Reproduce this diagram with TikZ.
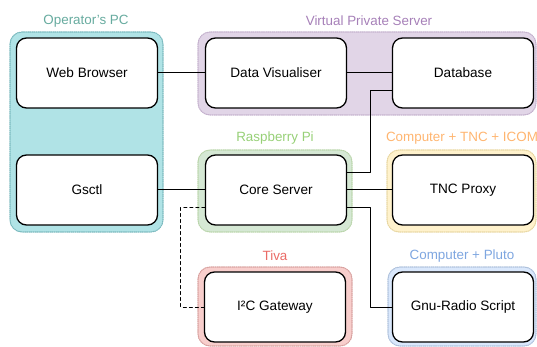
\documentclass[tikz,border=0pt]{standalone}
\usepackage{fontspec}
\setmainfont{Liberation Sans}

\begin{document}
\begin{tikzpicture}[x=1pt,y=-1pt,line cap=round, line join=round,
  box/.style={draw=black, fill=white, line width=1.3pt, rounded corners=10pt,
    minimum width=141pt, minimum height=70pt, font=\fontsize{13.6}{16}\selectfont},
  grp/.style={draw=#1!55!white, densely dotted, line width=1.1pt, rounded corners=12pt},
  grplabel/.style={text=#1, font=\fontsize{13.4}{16}\selectfont},
  wire/.style={draw=black, line width=1pt}]
\definecolor{pcteal}{HTML}{0E8088}
\definecolor{vpspurple}{HTML}{9673A6}
\definecolor{pigreen}{HTML}{82B366}
\definecolor{tncyellow}{HTML}{D6B656}
\definecolor{tivared}{HTML}{B85450}
\definecolor{plutoblue}{HTML}{6C8EBF}
\definecolor{pcfill}{HTML}{B0E3E6}
\definecolor{vpsfill}{HTML}{E1D5E7}
\definecolor{pifill}{HTML}{D5E8D4}
\definecolor{tncfill}{HTML}{FFF2CC}
\definecolor{tivafill}{HTML}{F8CECC}
\definecolor{plutofill}{HTML}{DAE8FC}
\definecolor{pctext}{HTML}{67AB9F}
\definecolor{vpstext}{HTML}{A680B8}
\definecolor{pitext}{HTML}{97D077}
\definecolor{tnctext}{HTML}{FFB570}
\definecolor{tivatext}{HTML}{EA6B66}
\definecolor{plutotext}{HTML}{7EA6E0}
  \useasboundingbox (0,0) rectangle (537,347);

  % groups (machines)
  \path[grp=pcteal, fill=pcfill]  (10,32)  rectangle (163,232);
  \path[grp=vpspurple, fill=vpsfill] (198,32)  rectangle (536,115);
  \path[grp=pigreen, fill=pifill]  (198,150) rectangle (352,232);
  \path[grp=tncyellow, fill=tncfill] (387,150) rectangle (536,232);
  \path[grp=tivared, fill=tivafill]  (198,267) rectangle (352,346);
  \path[grp=plutoblue, fill=plutofill] (388,267) rectangle (536,346);

  \node[grplabel=pctext]    (pclabel)    at (86,21)   {Operator's PC};
  \node[grplabel=vpstext]   (vpslabel)   at (369,21)  {Virtual Private Server};
  \node[grplabel=pitext]    (pilabel)    at (275,138) {Raspberry Pi};
  \node[grplabel=tnctext]   (tnclabel)   at (462,138) {Computer + TNC + ICOM};
  \node[grplabel=tivatext]  (tivalabel)  at (275,256) {Tiva};
  \node[grplabel=plutotext] (plutolabel) at (462,256) {Computer + Pluto};

  % programs
  \node[box] (web)   at (87,73)   {Web Browser};
  \node[box] (gsctl) at (87,190)  {Gsctl};
  \node[box] (vis)   at (276,73)  {Data Visualiser};
  \node[box] (db)    at (463,73)  {Database};
  \node[box] (core)  at (276,190) {Core Server};
  \node[box] (tnc)   at (463,190) {TNC Proxy};
  \node[box] (i2c)   at (275,307) {I²C Gateway};
  \node[box] (gnu)   at (463,307) {Gnu-Radio Script};

  % links
  \draw[wire] (web.east) -- (vis.west);
  \draw[wire] (vis.east) -- (db.west);
  \draw[wire] (gsctl.east) -- (core.west);
  \draw[wire] (core.east) -- (tnc.west);
  \draw[wire] ([yshift=17.5pt]core.east) -- ++(23,0) |- ([yshift=-17.5pt]db.west);
  \draw[wire] ([yshift=-17.5pt]core.east) -- ++(23,0) |- (gnu.west);
  \draw[wire, dashed] ([yshift=-17.5pt]core.west) -- ++(-24,0) |- (i2c.west);

\end{tikzpicture}
\end{document}
